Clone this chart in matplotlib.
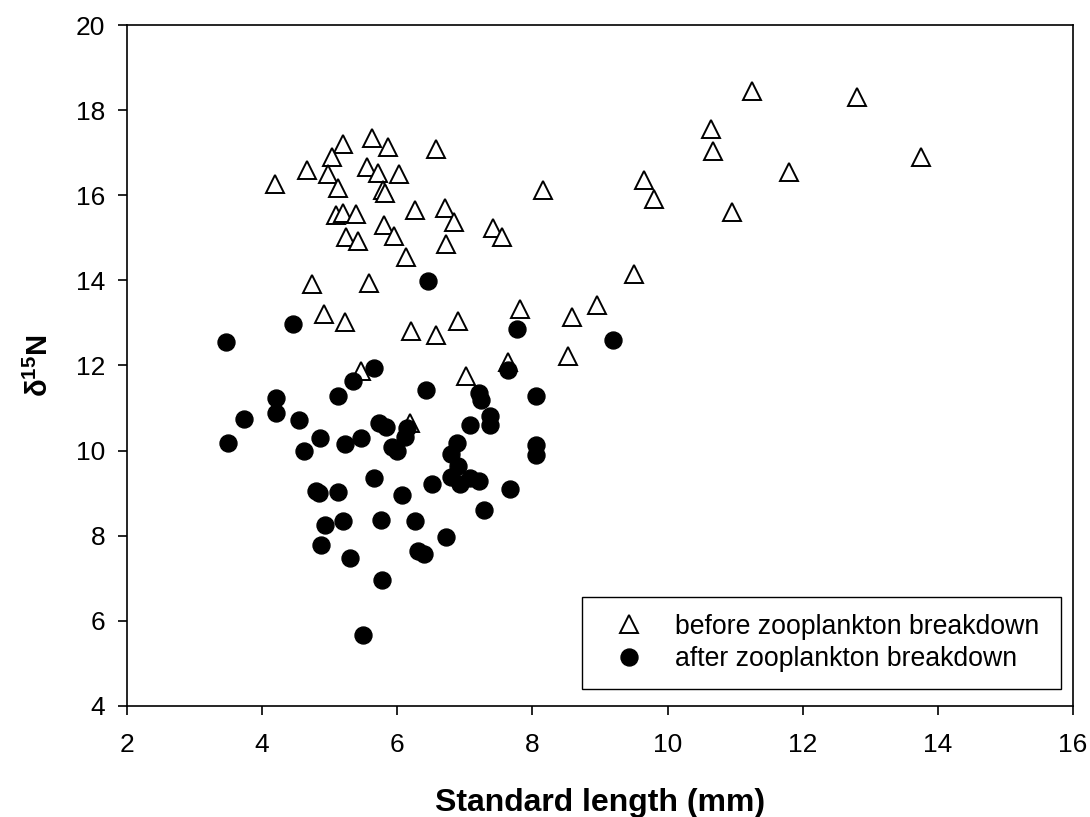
import matplotlib
matplotlib.use('Agg')
import matplotlib.pyplot as plt

plt.rcParams['font.family'] = ['Liberation Sans', 'DejaVu Sans']
plt.rcParams['mathtext.fontset'] = 'custom'
plt.rcParams['mathtext.rm'] = 'Liberation Sans'
plt.rcParams['mathtext.bf'] = 'Liberation Sans:bold'

# before zooplankton breakdown (open triangles)
before_x = [4.19, 4.66, 5.19, 5.03, 4.97, 5.13, 5.62, 5.87, 5.55, 5.72, 6.02, 5.79, 5.82,
            6.58, 8.15, 5.10, 5.19, 5.39, 6.26, 6.70, 6.84, 5.80, 5.95, 5.24, 5.42, 6.72,
            7.42, 7.55, 6.13, 4.74, 5.58, 4.92, 5.23, 6.21, 6.58, 6.90, 7.82, 8.59, 8.95,
            8.53, 7.64, 7.01, 5.47, 6.19, 9.50, 9.65, 9.80, 10.65, 10.67, 10.95, 11.25,
            11.80, 12.80, 13.75]
before_y = [16.26, 16.60, 17.20, 16.90, 16.51, 16.16, 17.34, 17.14, 16.67, 16.53, 16.49,
            16.12, 16.05, 17.08, 16.13, 15.53, 15.58, 15.57, 15.66, 15.71, 15.37, 15.29,
            15.04, 15.02, 14.93, 14.86, 15.22, 15.02, 14.55, 13.92, 13.94, 13.20, 13.02,
            12.80, 12.71, 13.04, 13.33, 13.14, 13.41, 12.22, 12.08, 11.76, 11.87, 10.64,
            14.15, 16.35, 15.90, 17.55, 17.05, 15.60, 18.45, 16.55, 18.30, 16.90]

# after zooplankton breakdown (filled circles)
after_x = [3.47, 4.45, 6.46, 7.77, 9.19, 5.65, 7.64, 5.34, 5.13, 6.42, 7.21, 7.24, 8.05,
           4.21, 4.21, 3.73, 4.55, 3.50, 4.86, 4.62, 5.23, 5.47, 5.73, 5.84, 6.15, 6.11,
           5.92, 5.99, 7.07, 7.37, 7.37, 6.88, 6.80, 6.90, 6.80, 6.93, 7.07, 7.21, 8.05,
           8.05, 7.67, 6.52, 6.07, 7.29, 5.66, 4.79, 4.84, 5.13, 4.93, 5.20, 5.76, 6.26,
           4.87, 5.30, 6.72, 6.31, 6.40, 5.77, 5.49]
after_y = [12.55, 12.98, 13.98, 12.85, 12.61, 11.94, 11.90, 11.63, 11.29, 11.42, 11.36,
           11.19, 11.28, 11.23, 10.88, 10.75, 10.73, 10.17, 10.30, 9.98, 10.16, 10.30,
           10.65, 10.56, 10.52, 10.31, 10.08, 10.00, 10.59, 10.82, 10.61, 10.18, 9.92,
           9.65, 9.37, 9.22, 9.36, 9.28, 10.13, 9.90, 9.10, 9.22, 8.96, 8.60, 9.36, 9.04,
           9.00, 9.02, 8.25, 8.34, 8.37, 8.35, 7.79, 7.47, 7.98, 7.63, 7.58, 6.96, 5.66]

xticks = [2, 4, 6, 8, 10, 12, 14, 16]
yticks = [4, 6, 8, 10, 12, 14, 16, 18, 20]

fig = plt.figure(figsize=(10.9, 8.17), dpi=100)
ax = fig.add_axes([0.1165, 0.1359, 0.8679, 0.8335])

ax.plot(before_x, before_y, linestyle='none', marker='^', markersize=13,
        markerfacecolor='white', markeredgecolor='black', markeredgewidth=1.4,
        label='before zooplankton breakdown')
ax.plot(after_x, after_y, linestyle='none', marker='o', markersize=12.2,
        markerfacecolor='black', markeredgecolor='black',
        label='after zooplankton breakdown')

ax.set_xlim(2, 16)
ax.set_ylim(4, 20)
ax.set_xticks(xticks)
ax.set_yticks(yticks)
ax.tick_params(direction='out', length=6.5, width=1.2, labelsize=19)
ax.tick_params(axis='x', pad=13)
ax.tick_params(axis='y', pad=9)
for sp in ax.spines.values():
    sp.set_linewidth(1.2)

ax.set_xlabel('Standard length (mm)', fontsize=23, fontweight='bold', labelpad=22)
ax.set_ylabel('δ$\\mathbf{^{15}}$N', fontsize=21, fontweight='bold', labelpad=16)

leg = ax.legend(loc='lower left', bbox_to_anchor=(0.481, 0.025, 0.506, 0.144),
                mode='expand', fontsize=19.2, frameon=True, fancybox=False,
                edgecolor='black', framealpha=1, borderpad=0.62, handlelength=2.3,
                handletextpad=0.55, labelspacing=0.25, borderaxespad=0)
leg.get_frame().set_linewidth(1.0)

fig.savefig('out.png', dpi=100)
